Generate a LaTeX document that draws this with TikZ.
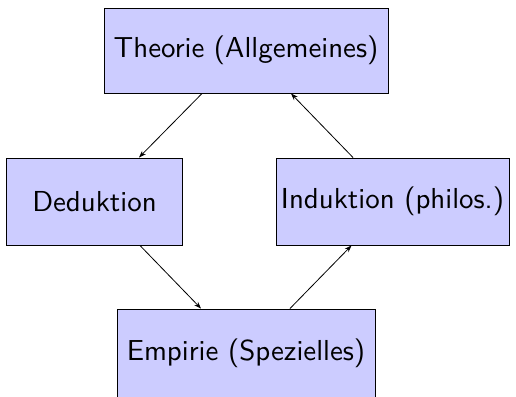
\documentclass[tikz,border=0pt]{standalone}
\usepackage{fontspec}
\newfontfamily\lmsten{lmsans10-regular.otf}
\usetikzlibrary{arrows.meta}
\tikzset{
  box/.style={draw=black, line width=1bp, fill=blue!20, inner sep=0pt,
    font=\lmsten\fontsize{29}{34}\selectfont},
  conn/.style={-{Stealth[length=7bp,width=5bp]}, line width=0.8bp}
}
\begin{document}
\begin{tikzpicture}[x=1bp,y=-1bp]
\useasboundingbox (0,0) rectangle (516,396);
\node[box, minimum width=284bp, minimum height=85bp] (theo) at (246,50.5) {Theorie (Allgemeines)};
\node[box, minimum width=175bp, minimum height=87bp] (ded) at (94.5,201.5) {Deduktion};
\node[box, minimum width=233bp, minimum height=87bp] (ind) at (392.5,201.5) {Induktion (philos.)};
\node[box, minimum width=258bp, minimum height=88bp] (emp) at (246,353) {Empirie (Spezielles)};
\draw[conn] ([xshift=-44bp]theo.south) -- ([xshift=44.5bp]ded.north);
\draw[conn] ([xshift=45.5bp]ded.south) -- ([xshift=-45bp]emp.north);
\draw[conn] ([xshift=44bp]emp.north) -- ([xshift=-41bp]ind.south);
\draw[conn] ([xshift=-39.5bp]ind.north) -- ([xshift=45bp]theo.south);
\end{tikzpicture}
\end{document}
